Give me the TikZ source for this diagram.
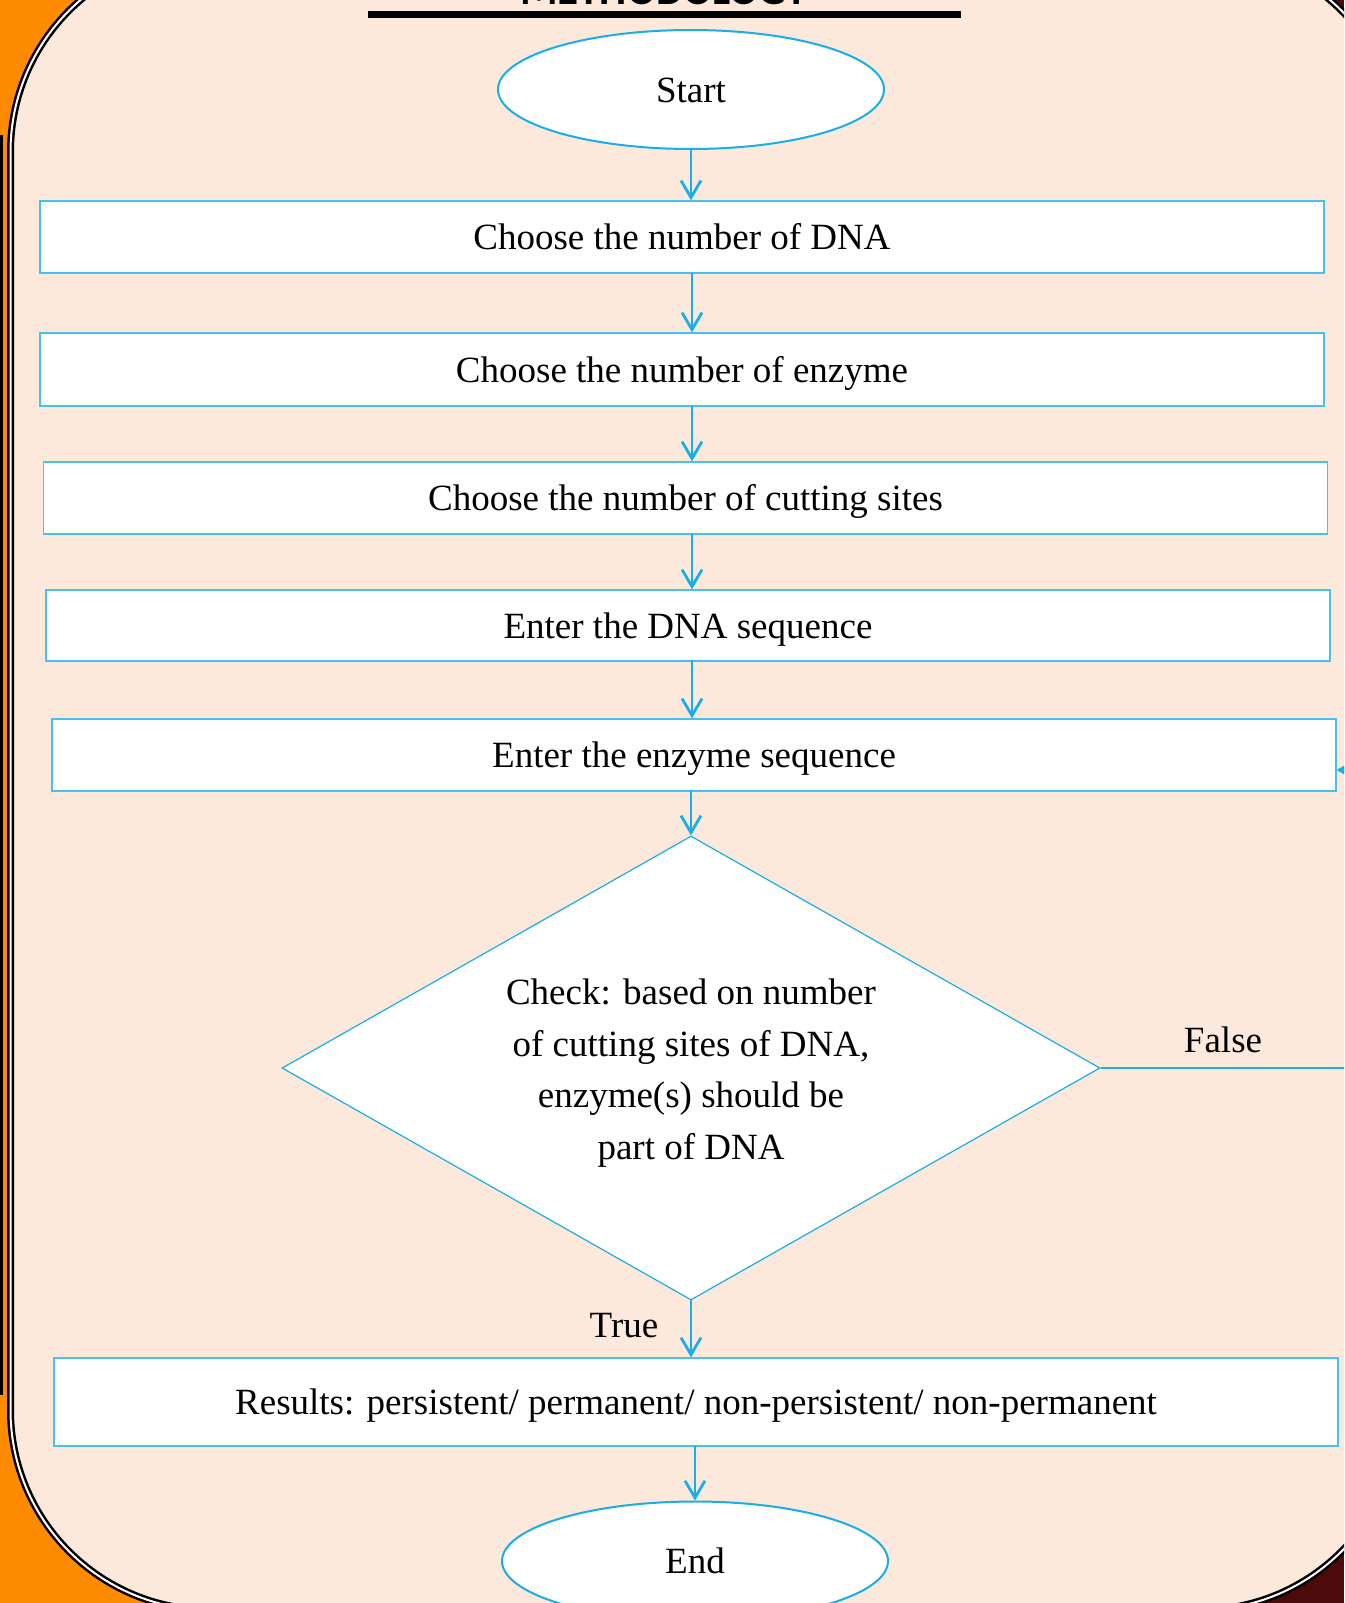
\documentclass[tikz,border=0pt]{standalone}
\usepackage{fontspec}
\setmainfont{Liberation Serif}
\newfontfamily\titlefont{Carlito}
\usepackage{tikz}
\usetikzlibrary{arrows.meta,shapes.geometric,calc}
\definecolor{peach}{HTML}{FCE9DB}
\definecolor{slideorange}{HTML}{FF8C00}
\definecolor{slidebrown}{HTML}{4D0A0A}
\definecolor{flowblue}{HTML}{19AEE8}
\definecolor{boxblue}{HTML}{45C1F0}

\begin{document}
\begin{tikzpicture}[
  x=1pt, y=-1pt, >={Straight Barb[length=17pt,width=20pt]},
  every node/.style={font=\fontsize{37}{51.6}\selectfont},
  stepbox/.style={draw=boxblue, line width=1.3pt, fill=white,
    minimum width=1284pt, minimum height=72pt, inner sep=0pt,
    text height=33pt, text depth=8pt},
  term/.style={ellipse, draw=flowblue, line width=2pt, fill=white,
    minimum width=386pt, minimum height=119pt, inner sep=0pt,
    text height=33pt, text depth=8pt},
  flow/.style={->, draw=flowblue, line width=2.8pt, line cap=round}
]
  \useasboundingbox (0,0) rectangle (1344,1603);
  \clip (0,0) rectangle (1344,1603);
  % slide background and frame
  \fill[slideorange] (0,0) rectangle (672,1603);
  \fill[slidebrown] (672,0) rectangle (1344,1603);
  \draw[black, line width=2.6pt] (1.3,135) -- (1.3,1395);
  \draw[fill=peach, line width=2.5pt, double=white, double distance=2pt,
    rounded corners=200pt] (10.5,-48) rectangle (1400,1610);
  % title, mostly cut off by the top edge
  \node[anchor=base, font=\titlefont\bfseries\fontsize{43}{43}\selectfont]
    (title) at (664,5) {METHODOLOGY};
  \fill (368,11) rectangle (961,18);
  % steps
  \node[term] (start) at (691,89.5) {Start};
  \node[stepbox] (b1) at (682,237) {Choose the number of DNA};
  \node[stepbox, minimum height=73pt] (b2) at (682,369.5) {Choose the number of enzyme};
  \node[stepbox] (b3) at (685.5,498) {Choose the number of cutting sites};
  \node[stepbox, minimum height=71pt] (b4) at (688,625.5) {Enter the DNA sequence};
  \node[stepbox] (b5) at (694,755) {Enter the enzyme sequence};
  \node[diamond, draw=flowblue, line width=1.2pt, fill=white, aspect=1.76,
    minimum width=818pt, minimum height=464pt, inner sep=0pt] (check) at (691,1068) {};
  \node[align=center] (checktext) at (691,1073)
    {Check: based on number\\of cutting sites of DNA,\\enzyme(s) should be\\part of DNA};
  \node[stepbox, minimum height=88pt] (res) at (696,1402)
    {Results: persistent/ permanent/ non-persistent/ non-permanent};
  \node[term] (end) at (695,1561) {End};
  % arrows down the chart
  \coordinate (col) at (692,0);
  \draw[flow] (start.south) -- (start.south |- b1.north);
  \draw[flow] (b1.south -| col) -- (b2.north -| col);
  \draw[flow] (b2.south -| col) -- (b3.north -| col);
  \draw[flow] (b3.south -| col) -- (b4.north -| col);
  \draw[flow] (b4.south -| col) -- (b5.north -| col);
  \draw[flow] (b5.south -| check.north) -- (check.north);
  \draw[flow] (check.south) -- (check.south |- res.north);
  \draw[flow] (res.south -| end.north) -- (end.north);
  % false: back to the enzyme sequence
  \coordinate (loop) at (1380,900);
  \draw[draw=flowblue, line width=2pt, -{Triangle[length=9pt,width=10pt]}]
    (check.east) -- (check.east -| loop) |- ([yshift=-15pt]b5.east);
  \node (false) at (1223,1040) {False};
  \node (true) at (624,1326) {True};
\end{tikzpicture}
\end{document}
